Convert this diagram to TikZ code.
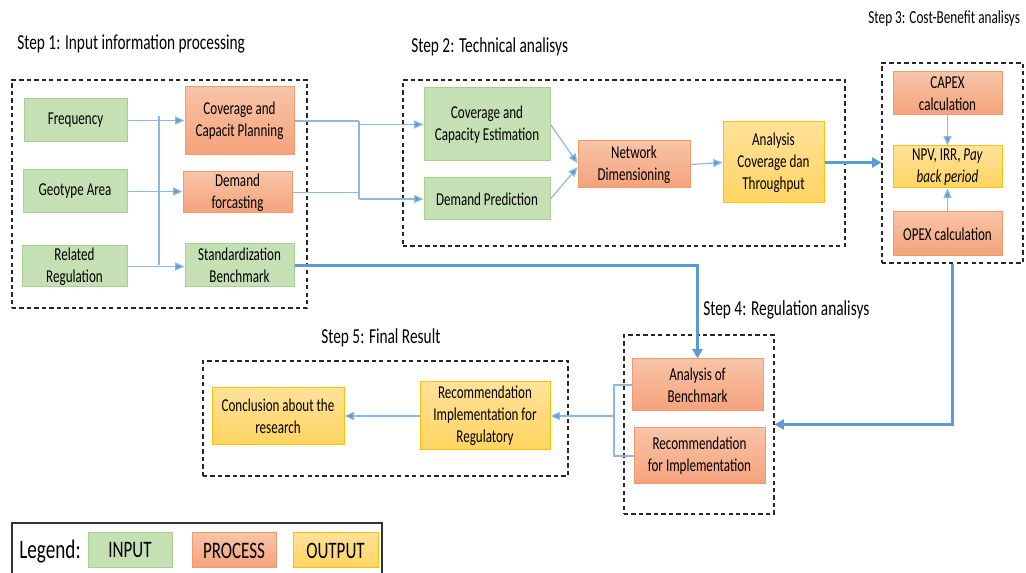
\documentclass[tikz,border=0pt]{standalone}
\usepackage{fontspec}
\setmainfont{Carlito}[FakeStretch=0.72]
\usetikzlibrary{arrows.meta}
\definecolor{gfill}{HTML}{C5E0B4}
\definecolor{gline}{HTML}{A9D18E}
\definecolor{otop}{HTML}{F8C4A7}
\definecolor{obot}{HTML}{F4A27B}
\definecolor{oline}{HTML}{F19A6A}
\definecolor{ytop}{HTML}{FFE29A}
\definecolor{ybot}{HTML}{FFD460}
\definecolor{yline}{HTML}{FFC000}
\definecolor{conn}{HTML}{5B9BD5}
\definecolor{connl}{HTML}{8DB8E2}
\tikzset{
  sz/.style 2 args={minimum width=#1*0.75pt, minimum height=#2*0.75pt},
  base/.style={inner sep=0pt, align=center, font=\fontsize{13.6}{16.5}\selectfont, line width=0.75pt},
  inp/.style={base, fill=gfill, draw=gline},
  proc/.style={base, top color=otop, bottom color=obot, draw=oline},
  outp/.style={base, top color=ytop, bottom color=ybot, draw=yline},
  grp/.style={inner sep=0pt, draw=black!85, line width=0.9pt, dash pattern=on 3.2pt off 2.4pt},
  title/.style={inner sep=0pt, anchor=west, font=\fontsize{16}{19}\selectfont},
  thin/.style={draw=connl, line width=0.9pt},
  thinarr/.style={thin, -{Triangle[length=7pt,width=6pt,fill=conn]}},
  thick/.style={draw=conn, line width=2.3pt},
  thickarr/.style={thick, -{Triangle[length=7pt,width=7.5pt]}},
  legbox/.style={inner sep=0pt, font=\fontsize{17.7}{21}\selectfont, line width=0.75pt},
}
\begin{document}
\begin{tikzpicture}[x=0.75pt,y=-0.75pt]
\useasboundingbox (0,0) rectangle (1026,573);
% group boxes
\node[grp, sz={295}{228}] (g1) at (159.5,194) {};
\node[grp, sz={442}{166}] (g2) at (624,163) {};
\node[grp, sz={141}{200}] (g3) at (952.5,163) {};
\node[grp, sz={150}{179}] (g4) at (699,424.5) {};
\node[grp, sz={365}{115}] (g5) at (385.5,418.5) {};
% titles
\node[title] (t1) at (17,44) {Step 1: Input information processing};
\node[title] (t2) at (411,47) {Step 2: Technical analisys};
\node[title, font=\fontsize{13.8}{16}\selectfont] (t3) at (868,19) {Step 3: Cost-Benefit analisys};
\node[title] (t4) at (703,310) {Step 4: Regulation analisys};
\node[title] (t5) at (321,338) {Step 5: Final Result};
% step 1
\node[inp, sz={103}{43}] (freq) at (75.5,120.5) {Frequency};
\node[inp, sz={104}{43}] (geo) at (75,191.5) {Geotype Area};
\node[inp, sz={105}{41}] (reg) at (74.5,266.5) {Related\\Regulation};
\node[proc, sz={109}{68}] (cov) at (239.5,121) {Coverage and\\Capacit Planning};
\node[proc, sz={109}{41}] (dem) at (237.5,192.5) {Demand\\forcasting};
\node[inp, sz={109}{43}] (std) at (239.5,265.5) {Standardization\\Benchmark};
% step 2
\node[inp, sz={126}{73}] (cce) at (487,124.5) {Coverage and\\Capacity Estimation};
\node[inp, sz={126}{42}] (dp) at (487,199) {Demand Prediction};
\node[proc, sz={112}{47}] (nd) at (634,164.5) {Network\\Dimensioning};
\node[outp, sz={101}{81}] (act) at (773.5,162.5) {Analysis\\Coverage dan\\Throughput};
% step 3
\node[proc, sz={109}{43}] (capex) at (947.5,93.5) {CAPEX\\calculation};
\node[outp, sz={109}{42}] (npv) at (947.5,167) {NPV, IRR, \textit{Pay}\\\textit{back period}};
\node[proc, sz={109}{44}] (opex) at (947.5,234) {OPEX calculation};
% step 4
\node[proc, sz={131}{52}] (arb) at (697.5,385) {Analysis of\\Benchmark};
\node[proc, sz={131}{56}] (rfi) at (699.5,456) {Recommendation\\for Implementation};
% step 5
\node[outp, sz={130}{68}] (rir) at (485,416) {Recommendation\\Implementation for\\Regulatory};
\node[outp, sz={132}{57}] (conc) at (278,416.5) {Conclusion about the\\research};
% legend
\node[draw=black!80, line width=1pt, inner sep=0pt, sz={370}{77}] (leg) at (197,561.5) {};
\node[inner sep=0pt, anchor=west, font=\fontsize{20}{23}\selectfont] (legt) at (19,552) {Legend:};
\node[legbox, fill=gfill, draw=gline, sz={84}{35}] (lin) at (130,550.5) {INPUT};
\node[legbox, top color=otop, bottom color=obot, draw=oline, sz={84}{35}] (lpr) at (234,550.5) {PROCESS};
\node[legbox, top color=ytop, bottom color=ybot, draw=yline, sz={85}{35}] (lout) at (335.5,550.5) {OUTPUT};
% step 1 connectors
\coordinate (b1t) at (159,116);
\coordinate (b1b) at (159,265);
\draw[thin] (b1t) -- (b1b);
\draw[thinarr] (freq.east) -- (freq.east -| cov.west);
\draw[thinarr] (geo.east) -- (geo.east -| dem.west);
\draw[thinarr] (reg.east) -- (reg.east -| std.west);
% step 1 -> step 2
\coordinate (j1) at (359,121);
\draw[thin] (cov.east) -- (cov.east -| j1);
\draw[thin] (dem.east) -- (dem.east -| j1);
\draw[thin] (cov.east -| j1) -- (dp.west -| j1);
\draw[thinarr] (cce.west -| j1) -- (cce.west);
\draw[thinarr] (dp.west -| j1) -- (dp.west);
% step 2 internal
\draw[thinarr] (cce.east) -- ([yshift=1pt]nd.west);
\draw[thinarr] (dp.east) -- ([yshift=-2pt]nd.west);
\draw[thinarr] (nd.east) -- (act.west);
% step 2 -> step 3
\draw[thickarr] (act.east) -- (act.east -| g3.west);
% step 3 internal
\draw[thinarr] (capex.south) -- (npv.north);
\draw[thinarr] (opex.north) -- (npv.south);
% step 3 -> step 4
\draw[thickarr] (g3.south) |- (g4.east);
% standardization -> step 4
\draw[thickarr] (std.east) -| (arb.north);
% step 4 -> step 5
\coordinate (j3) at (614,416);
\draw[thin] (arb.west) -- (arb.west -| j3) -- (rfi.west -| j3) -- (rfi.west);
\draw[thinarr] (j3) -- (j3 -| rir.east);
\draw[thinarr] (rir.west) -- (rir.west -| conc.east);
\end{tikzpicture}
\end{document}
